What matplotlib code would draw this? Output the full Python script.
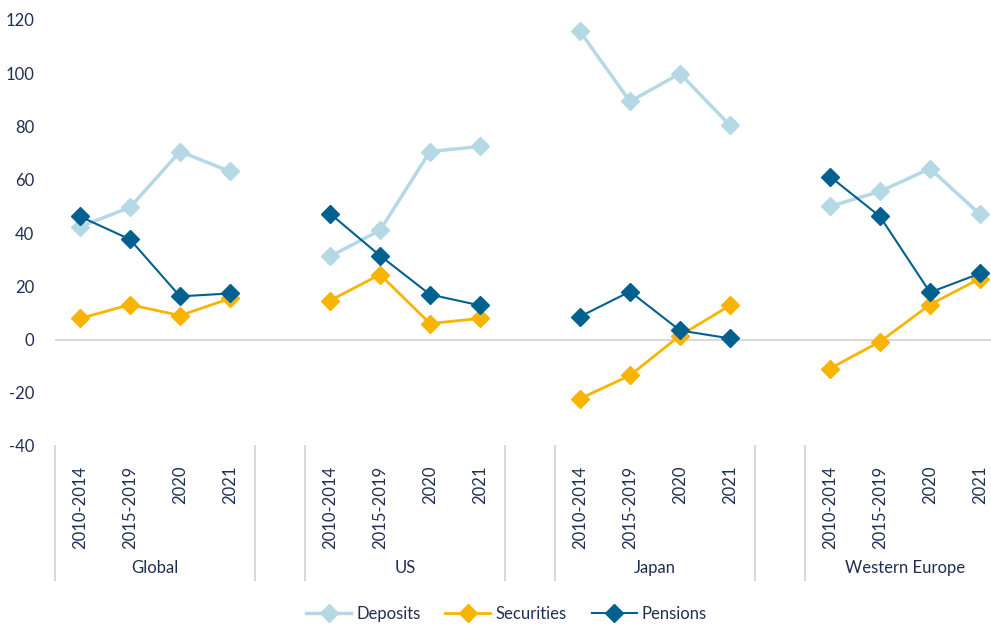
import numpy as np
import matplotlib.pyplot as plt
from matplotlib.transforms import blended_transform_factory

# Data
regions = ['Global', 'US', 'Japan', 'Western Europe']
periods = ['2010-2014', '2015-2019', '2020', '2021']

deposits = [[42.4, 49.6, 70.6, 63.1],
            [31.2, 41.0, 70.6, 72.5],
            [115.7, 89.4, 99.9, 80.4],
            [50.0, 55.6, 64.2, 47.0]]
securities = [[7.9, 13.1, 9.0, 15.4],
              [14.6, 24.4, 6.0, 7.9],
              [-22.2, -13.5, 1.5, 12.8],
              [-10.9, -0.8, 13.1, 22.9]]
pensions = [[46.2, 37.6, 16.2, 17.3],
            [47.3, 31.5, 16.9, 12.8],
            [8.6, 18.0, 3.4, 0.4],
            [61.2, 46.2, 17.7, 24.8]]

navy = '#1f2f54'
grey = '#d9d9d9'
plt.rcParams['font.family'] = ['Lato', 'DejaVu Sans']
plt.rcParams['axes.unicode_minus'] = False

fig = plt.figure(figsize=(9.91, 6.26), dpi=100)
ax = fig.add_axes([55 / 991, 1 - 446 / 626, 1 - 55 / 991, 426 / 626])

series = [('Deposits', deposits, '#b5d9e4', 2.5),
          ('Securities', securities, '#f8b400', 2.0),
          ('Pensions', pensions, '#00608f', 1.5)]

n = len(periods)
xticks = []
xlabels = []
for g in range(len(regions)):
    x = np.arange(n) + g * (n + 1)
    xticks.extend(x)
    xlabels.extend(periods)
    for name, vals, col, lw in series:
        ax.plot(x, vals[g], color=col, lw=lw, marker='D', ms=9,
                label=name if g == 0 else None)

ax.axhline(0, color=grey, lw=1.5, zorder=0)
ax.set_ylim(-40, 120)
ax.set_xlim(-0.5, 18.22)
ax.set_yticks(np.arange(-40, 121, 20))
ax.set_xticks(xticks)
ax.set_xticklabels(xlabels, rotation=90)
ax.tick_params(axis='both', length=0, labelsize=12, labelcolor=navy)
ax.tick_params(axis='x', pad=14)
ax.tick_params(axis='y', pad=15)
for s in ax.spines.values():
    s.set_visible(False)

# group separators and labels below the axis
trans = blended_transform_factory(ax.transData, ax.transAxes)
for g, reg in enumerate(regions):
    left = g * (n + 1) - 0.5
    right = left + n
    for xe in (left, right):
        ax.plot([xe, xe], [0, -0.315], color=grey, lw=1.5, transform=trans,
                clip_on=False)
    ax.text((left + right) / 2, -0.286, reg, transform=trans, ha='center',
            va='center', fontsize=12, color=navy)

fig.legend(loc='center', bbox_to_anchor=(0.511, 1 - 614 / 626), ncol=3,
           frameon=False, fontsize=12, labelcolor=navy, handlelength=2.7,
           columnspacing=1.5, handletextpad=0.3)

fig.savefig('out.png', dpi=100)
